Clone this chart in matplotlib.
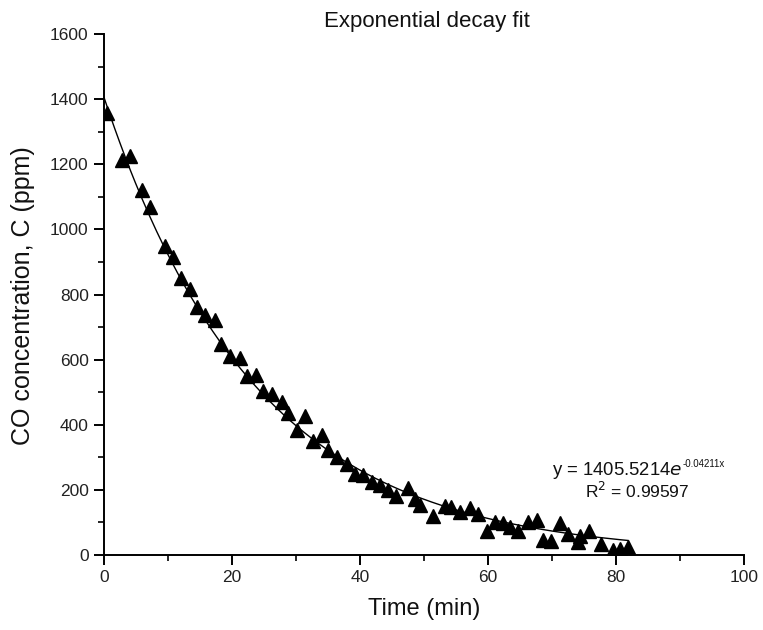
import numpy as np
import matplotlib
matplotlib.use("Agg")
from matplotlib import pyplot as plt
from matplotlib.ticker import MultipleLocator

plt.rcParams['font.family'] = ['Liberation Sans', 'DejaVu Sans']

time_min = [0.4, 2.8, 4.1, 5.9, 7.2, 9.5, 10.8, 12.1, 13.4, 14.5, 15.8, 17.3,
            18.3, 19.7, 21.3, 22.3, 23.8, 24.8, 26.2, 27.8, 28.8, 30.1, 31.4,
            32.7, 34.0, 35.0, 36.4, 37.9, 39.3, 40.5, 41.9, 43.1, 44.4, 45.7,
            47.5, 48.6, 49.4, 51.4, 53.3, 54.3, 55.6, 57.2, 58.4, 59.8, 61.1,
            62.4, 63.4, 64.7, 66.3, 67.6, 68.6, 69.9, 71.3, 72.5, 74.1, 74.4,
            75.8, 77.7, 79.5, 80.6, 81.9]
co_ppm = [1357, 1213, 1225, 1122, 1070, 948, 916, 850, 818, 763, 737, 722,
          647, 610, 606, 550, 552, 504, 495, 470, 435, 385, 426,
          350, 370, 322, 300, 280, 250, 245, 225, 215, 200, 180,
          205, 172, 154, 120, 150, 146, 132, 145, 125, 74, 102,
          99, 85, 74, 102, 108, 46, 44, 99, 64, 41, 58,
          75, 34, 15, 18, 26]

fit_a = 1405.5214
fit_k = 0.04211
fit_r2 = 0.99597

fig = plt.figure(figsize=(7.63, 6.30), dpi=100)
ax = fig.add_axes([0.1363, 0.119, 0.8387, 0.827])

t = np.linspace(0, max(time_min), 300)
ax.plot(t, fit_a * np.exp(-fit_k * t), color="black", lw=1.0, zorder=2)
ax.plot(time_min, co_ppm, ls="none", marker="^", ms=10, color="black", zorder=3)

ax.set_xlim(0, 100)
ax.set_ylim(0, 1600)
ax.xaxis.set_major_locator(MultipleLocator(20))
ax.xaxis.set_minor_locator(MultipleLocator(10))
ax.yaxis.set_major_locator(MultipleLocator(200))
ax.yaxis.set_minor_locator(MultipleLocator(100))

for s in ["top", "right"]:
    ax.spines[s].set_visible(False)
for s in ["left", "bottom"]:
    ax.spines[s].set_linewidth(1.4)
ax.tick_params(which="major", direction="out", length=7, width=1.4,
               labelsize=12.5, labelcolor="#222222", pad=4)
ax.tick_params(which="minor", direction="out", length=4, width=1.2)

ax.set_xlabel("Time (min)", fontsize=17, color="#111111")
ax.xaxis.set_label_coords(0.5, -0.082)
ax.set_ylabel("CO concentration, C (ppm)", fontsize=18, color="#111111")
ax.yaxis.set_label_coords(-0.108, 0.497)
fig.text(0.559, 1 - 21 / 630, "Exponential decay fit", fontsize=16,
         ha="center", va="center", color="#111111")

eq = ax.text(70.0, 260, "y = 1405.5214$\\it{e}$", fontsize=13.3, ha="left",
             va="center", color="#111111")
ax.annotate("-0.04211x", xy=(1.0, 0.78), xycoords=eq, fontsize=7,
            ha="left", va="center", color="#111111")
ax.text(83.3, 197, "R$^2$ = %.5f" % fit_r2, fontsize=12.5, ha="center",
        va="center", color="#111111")

fig.savefig("out.png", dpi=100)
